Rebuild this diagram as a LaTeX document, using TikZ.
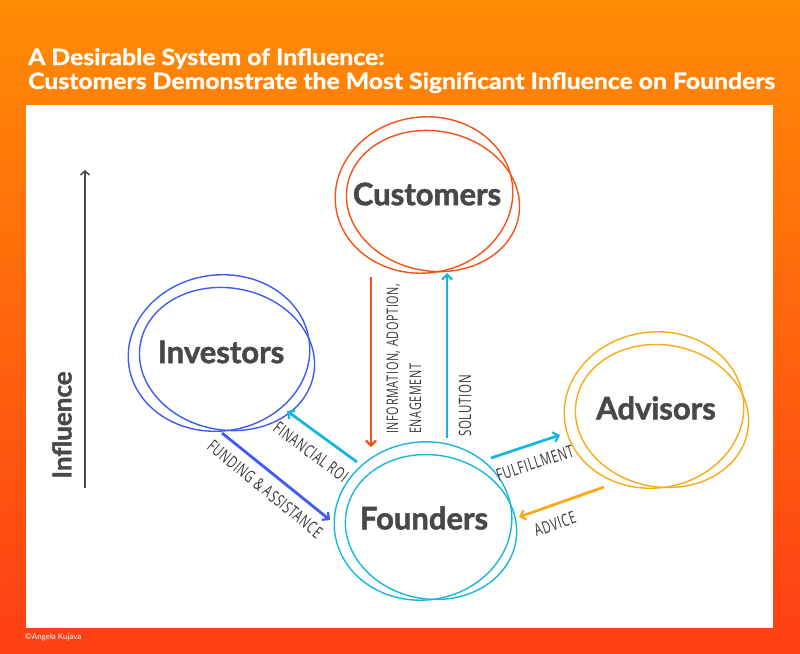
\documentclass[tikz,border=0pt]{standalone}
\usepackage{fontspec}
\setmainfont{Lato}
\newfontfamily\hand[FakeStretch=0.68,LetterSpace=4]{Open Sans}
\newfontfamily\ttlfont[FakeStretch=1.1,FakeBold=1.2]{Lato}
\newfontfamily\lblfont[FakeBold=1.6]{Lato}
\usetikzlibrary{arrows.meta,calc}
\definecolor{bgtop}{RGB}{255,140,5}
\definecolor{bgbot}{RGB}{255,62,20}
\definecolor{cOr}{RGB}{247,82,22}
\definecolor{cBl}{RGB}{62,92,245}
\definecolor{cYe}{RGB}{250,170,22}
\definecolor{cCy}{RGB}{24,182,220}
\definecolor{txt}{RGB}{72,72,72}
\definecolor{hnd}{RGB}{55,55,55}
\begin{document}
\begin{tikzpicture}[x=1pt,y=-1pt,
  ring/.style={line width=1.4pt},
  flow/.style={line width=2.8pt,-{Straight Barb[length=5pt,width=10pt,line width=2.2pt]}},
  lbl/.style={font=\lblfont\bfseries\fontsize{31}{34}\selectfont,text=txt,inner sep=0pt},
  hw/.style={font=\hand\fontsize{17}{23}\selectfont,text=hnd,inner sep=0pt},
  ttl/.style={font=\ttlfont\bfseries\fontsize{22.5}{26}\selectfont,text=white,inner sep=0pt,anchor=base west}]
\useasboundingbox (0,0) rectangle (800,653);
\shade[top color=bgtop,bottom color=bgbot] (0,0) rectangle (800,653);
\fill[white] (26,105) rectangle (773,628);
% title
\node[ttl] (t1) at (28,65) {A Desirable System of Influence:};
\node[ttl] (t2) at (28,89) {Customers Demonstrate the Most Significant Influence on Founders};
\node[font=\fontsize{8}{10}\selectfont,text=white,anchor=base west,inner sep=0pt] (copy) at (25,639) {©Angela Kujava};
% influence axis
\coordinate (axb) at (85,488);
\coordinate (axt) at (85,170);
\draw[line width=1.8pt,draw=txt,-{Straight Barb[length=4pt,width=9pt,line width=1.5pt]}] (axb) -- (axt);
\node[font=\lblfont\bfseries\fontsize{26}{30}\selectfont,text=txt,rotate=90,inner sep=0pt] (infl) at (62,425) {Influence};
% circles
\node[lbl] (cust) at (427,194) {Customers};
\node[lbl] (inv) at (221,352) {Investors};
\node[lbl] (adv) at (656,408) {Advisors};
\node[lbl] (fnd) at (424,518) {Founders};
\draw[ring,cOr,rotate around={8:(424,195)}] (424,195) ellipse [x radius=89pt,y radius=78pt];
\draw[ring,cOr,rotate around={-10:(433,201)}] (433,201) ellipse [x radius=87pt,y radius=70pt];
\draw[ring,cBl,rotate around={8:(219,353)}] (219,353) ellipse [x radius=91pt,y radius=78pt];
\draw[ring,cBl,rotate around={-10:(227,359)}] (227,359) ellipse [x radius=88pt,y radius=71pt];
\draw[ring,cYe,rotate around={8:(654,410)}] (654,410) ellipse [x radius=90pt,y radius=78pt];
\draw[ring,cYe,rotate around={-10:(662,416)}] (662,416) ellipse [x radius=87pt,y radius=71pt];
\draw[ring,cCy,rotate around={8:(423,521)}] (423,521) ellipse [x radius=89pt,y radius=79pt];
\draw[ring,cCy,rotate around={-10:(431,527)}] (431,527) ellipse [x radius=86pt,y radius=72pt];
% arrows
\coordinate (i1) at (371,277); \coordinate (i2) at (371,447);
\coordinate (s1) at (447,438); \coordinate (s2) at (447,273);
\coordinate (r1) at (357,462); \coordinate (r2) at (287,411);
\coordinate (f1) at (222,433); \coordinate (f2) at (330,520);
\coordinate (u1) at (491,458); \coordinate (u2) at (560,435);
\coordinate (a1) at (604,487); \coordinate (a2) at (519,517);
\draw[flow,cOr] (i1) -- (i2);
\draw[flow,cCy] (s1) -- (s2);
\draw[flow,cCy] (r1) -- (r2);
\draw[flow,cBl] (f1) -- (f2);
\draw[flow,cCy] (u1) -- (u2);
\draw[flow,cYe] (a1) -- (a2);
% labels
\node[hw,font=\hand\fontsize{16}{23}\selectfont,rotate=90,anchor=west,align=left] (li) at (404,434) {INFORMATION, ADOPTION,\\ENAGEMENT};
\node[hw,rotate=90,anchor=west] (ls) at (465,437) {SOLUTION};
\node[hw,rotate=-36.5] (lr) at (311,452) {FINANCIAL ROI};
\node[hw,rotate=-39.5] (lf) at (265,489) {FUNDING \& ASSISTANCE};
\node[hw,rotate=18] (lu) at (535,463) {FULFILLMENT};
\node[hw,rotate=19] (la) at (555,524) {ADVICE};
\end{tikzpicture}
\end{document}
